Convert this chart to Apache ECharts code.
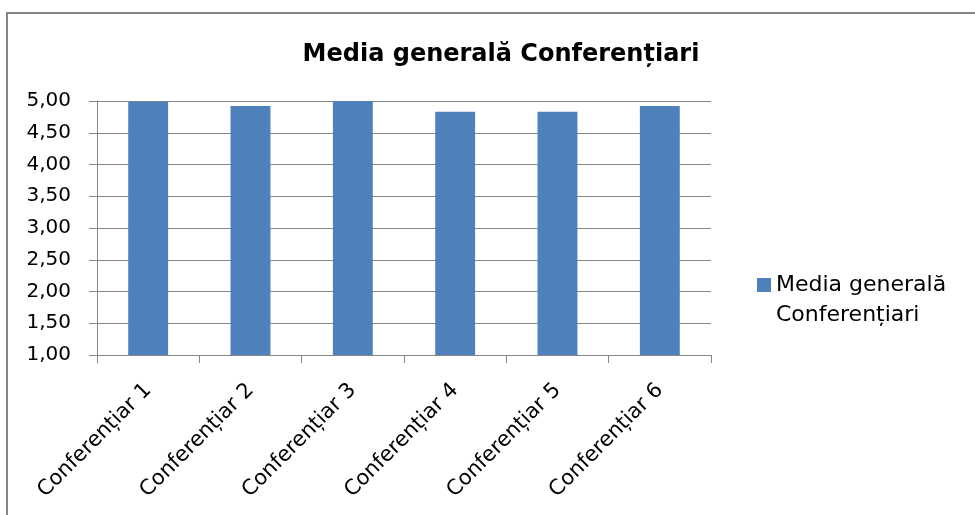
<!DOCTYPE html>
<html><head><meta charset="utf-8">
<script src="https://cdn.jsdelivr.net/npm/echarts@6/dist/echarts.min.js"></script>
<style>html,body{margin:0;padding:0;background:#fff}#c{width:975px;height:515px}</style>
</head><body><div id="c"></div>
<script>
const categories = ['Conferențiar 1','Conferențiar 2','Conferențiar 3','Conferențiar 4','Conferențiar 5','Conferențiar 6'];
const seriesName = 'Media generală Conferențiari';
const values = [4.99, 4.92, 5.00, 4.83, 4.83, 4.92];
const yMin = 1, yMax = 5, yStep = 0.5;

const chart = echarts.init(document.getElementById('c'));
chart.setOption({
  animation: false,
  backgroundColor: '#fff',
  title: {
    text: 'Media generală Conferențiari',
    left: 496, top: 38, textAlign: 'center',
    textStyle: {fontFamily: 'DejaVu Sans', fontSize: 24, fontWeight: 'bold', color: '#000'}
  },
  graphic: [{type: 'rect', shape: {x: 7, y: 13, width: 990, height: 530}, style: {fill: 'none', stroke: '#868686', lineWidth: 2}, silent: true}],
  legend: {
    data: [seriesName],
    left: 752, top: 265, orient: 'vertical',
    icon: 'path://M0,0 L14,0 L14,14 L0,14 Z M0,44 L0,44 Z',
    itemWidth: 14, itemHeight: 44, itemGap: 6,
    formatter: function(){ return 'Media generală\nConferențiari'; },
    textStyle: {fontFamily: 'DejaVu Sans', fontSize: 22, color: '#000', lineHeight: 30}
  },
  grid: {left: 97, right: 264, top: 101, bottom: 160},
  xAxis: {
    type: 'category', data: categories,
    axisLine: {lineStyle: {color: '#868686'}},
    axisTick: {show: true, length: 8, alignWithLabel: false, lineStyle: {color: '#868686'}},
    axisLabel: {rotate: 45, interval: 0, margin: 32,
      fontFamily: 'DejaVu Sans', fontSize: 21, color: '#000'}
  },
  yAxis: {
    type: 'value', min: yMin, max: yMax, interval: yStep,
    axisLine: {show: true, lineStyle: {color: '#868686'}},
    axisTick: {show: true, length: 8, inside: false, lineStyle: {color: '#868686'}},
    splitLine: {lineStyle: {color: '#868686'}},
    axisLabel: {margin: 26, fontFamily: 'DejaVu Sans', fontSize: 20, color: '#000',
      formatter: v => v.toFixed(2).replace('.', ',')}
  },
  series: [{
    name: seriesName, type: 'bar', data: values, barWidth: '39%',
    itemStyle: {color: '#4f81bd'}
  }]
});
</script></body></html>
